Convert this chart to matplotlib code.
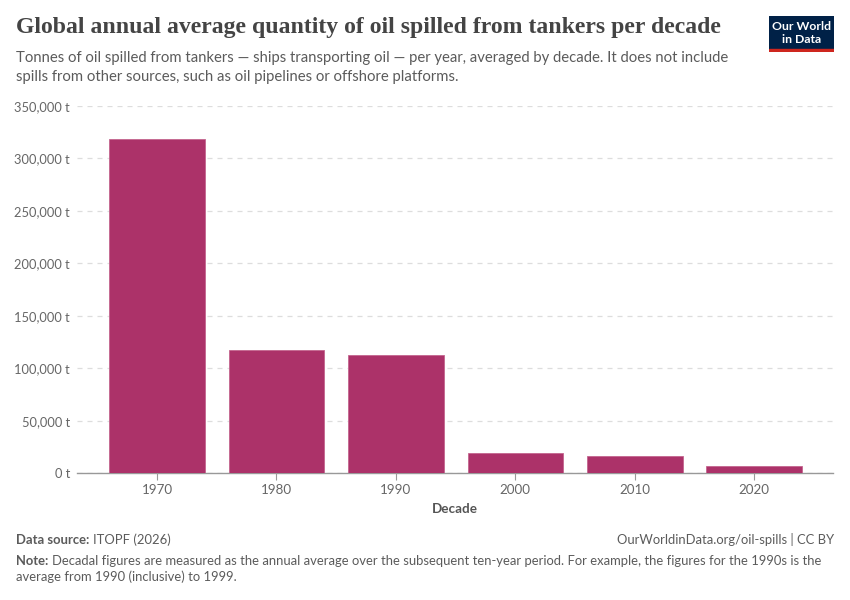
import matplotlib
matplotlib.use("Agg")
import matplotlib.pyplot as plt
from matplotlib.patches import Rectangle
from matplotlib.ticker import FuncFormatter

decades = ["1970", "1980", "1990", "2000", "2010", "2020"]
oil_spilled = [319000, 117600, 112900, 19400, 16500, 7000]
y_ticks = [0, 50000, 100000, 150000, 200000, 250000, 300000, 350000]

W, H = 850, 600
fig = plt.figure(figsize=(8.5, 6), dpi=100)
fig.patch.set_facecolor("white")

ax_l, ax_r, ax_t, ax_b = 77, 833, 106, 473.3
ax = fig.add_axes([ax_l / W, 1 - ax_b / H, (ax_r - ax_l) / W, (ax_b - ax_t) / H])

x = list(range(len(decades)))
ax.bar(x, oil_spilled, width=0.8, color="#ac3269", edgecolor="#c4658f", linewidth=0.6, zorder=3)
ax.set_xlim(-0.67, 5.66)
ax.set_ylim(0, 350000)
ax.set_yticks(y_ticks)
ax.yaxis.set_major_formatter(FuncFormatter(lambda v, p: f"{int(v):,} t"))
ax.set_xticks(x)
ax.set_xticklabels(decades)
ax.grid(axis="y", color="#dddddd", linestyle=(0, (4, 4)), linewidth=0.9, zorder=0)
for s in ["top", "right", "left"]:
    ax.spines[s].set_visible(False)
ax.spines["bottom"].set_color("#999999")
ax.spines["bottom"].set_linewidth(1)
ax.tick_params(axis="y", length=0, pad=5, labelsize=9.3, labelcolor="#666666")
ax.tick_params(axis="x", length=5, color="#999999", pad=3, labelsize=9.6, labelcolor="#666666")
for lab in ax.get_xticklabels() + ax.get_yticklabels():
    lab.set_fontfamily("Lato")
ax.set_xlabel("Decade", fontfamily="Lato", fontsize=9.7, fontweight="bold", color="#555555", labelpad=5)

# Title and subtitle
fig.text(16 / W, 1 - 28 / H, "Global annual average quantity of oil spilled from tankers per decade",
         fontfamily="Liberation Serif", fontsize=17.1, fontweight="bold", color="#444444", va="center", ha="left")
fig.text(16 / W, 1 - 58 / H, "Tonnes of oil spilled from tankers \u2014 ships transporting oil \u2014 per year, averaged by decade. It does not include",
         fontfamily="Lato", fontsize=10.75, color="#5b5b5b", va="center", ha="left")
fig.text(16 / W, 1 - 77 / H, "spills from other sources, such as oil pipelines or offshore platforms.",
         fontfamily="Lato", fontsize=10.75, color="#5b5b5b", va="center", ha="left")

# Logo
logo = fig.add_axes([769 / W, 1 - 52 / H, 65 / W, 36 / H])
logo.set_xlim(0, 65)
logo.set_ylim(0, 36)
logo.axis("off")
logo.add_patch(Rectangle((0, 3), 65, 33, color="#002147"))
logo.add_patch(Rectangle((0, 0), 65, 3, color="#ce261e"))
logo.text(32.5, 25.5, "Our World", color="white", fontfamily="Lato", fontweight="bold", fontsize=8.8, ha="center", va="center")
logo.text(32.5, 12.5, "in Data", color="white", fontfamily="Lato", fontweight="bold", fontsize=8.8, ha="center", va="center")

fig.canvas.draw()
renderer = fig.canvas.get_renderer()

def bold_then_regular(xpx, ypx, bold, regular, size):
    t = fig.text(xpx / W, 1 - ypx / H, bold, fontfamily="Lato", fontsize=size, fontweight="bold",
                 color="#5b5b5b", va="center", ha="left")
    bb = t.get_window_extent(renderer=renderer)
    fig.text((bb.x1 + 4) / W, 1 - ypx / H, regular, fontfamily="Lato", fontsize=size,
             color="#5b5b5b", va="center", ha="left")

fs = 9.35
bold_then_regular(16, 540, "Data source:", "ITOPF (2026)", fs)
fig.text(834 / W, 1 - 540 / H, "OurWorldinData.org/oil-spills | CC BY", fontfamily="Lato", fontsize=fs, color="#5b5b5b", va="center", ha="right")
bold_then_regular(16, 561, "Note:", "Decadal figures are measured as the annual average over the subsequent ten-year period. For example, the figures for the 1990s is the", fs)
fig.text(16 / W, 1 - 577 / H, "average from 1990 (inclusive) to 1999.", fontfamily="Lato", fontsize=fs, color="#5b5b5b", va="center", ha="left")

fig.savefig("out.png", dpi=100, facecolor="white")
